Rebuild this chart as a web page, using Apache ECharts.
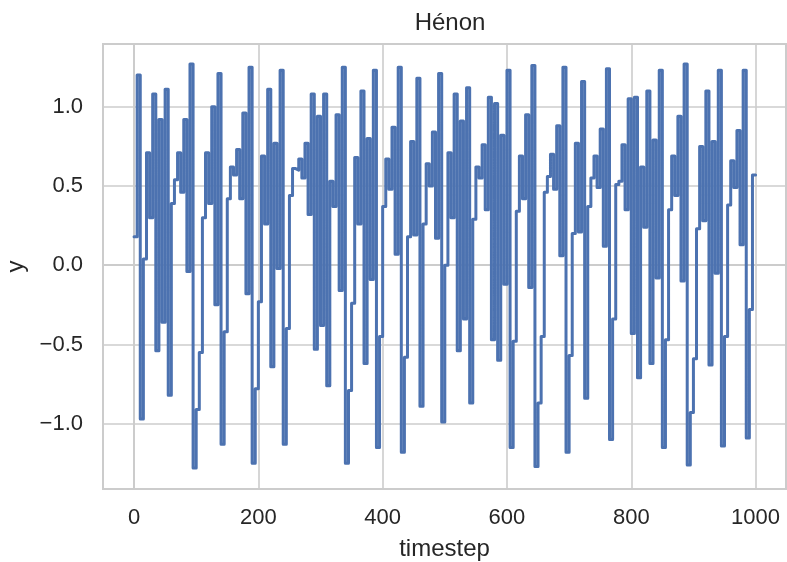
<!DOCTYPE html>
<html>
<head>
<meta charset="utf-8">
<script src="https://cdn.jsdelivr.net/npm/echarts@6/dist/echarts.min.js"></script>
<style>
  html, body { margin: 0; padding: 0; background: #fff; }
  #chart { width: 787px; height: 562px; }
</style>
</head>
<body>
<div id="chart"></div>
<script>
// each value is held for stepSize timesteps
const stepSize = 5;
const yValues = [
  0.18, 1.20, -0.97, 0.04, 0.71, 0.30, 1.08, -0.54, 0.92, -0.36,
  1.11, -0.82, 0.39, 0.54, 0.71, 0.46, 0.92, -0.04, 1.27, -1.28,
  -0.91, -0.55, 0.30, 0.71, 0.39, 1.00, -0.25, 1.21, -1.13, -0.42,
  0.42, 0.62, 0.57, 0.73, 0.42, 0.96, -0.18, 1.25, -1.25, -0.78,
  -0.23, 0.69, 0.26, 1.11, -0.64, 0.77, -0.02, 1.23, -1.13, -0.40,
  0.44, 0.61, 0.60, 0.67, 0.55, 0.77, 0.32, 1.08, -0.53, 0.94,
  -0.38, 1.08, -0.76, 0.53, 0.37, 0.95, -0.16, 1.25, -1.25, -0.79,
  -0.24, 0.68, 0.26, 1.10, -0.62, 0.80, -0.09, 1.23, -1.15, -0.45,
  0.37, 0.67, 0.48, 0.87, 0.07, 1.25, -1.18, -0.58, 0.18, 0.78,
  0.19, 1.18, -0.89, 0.26, 0.64, 0.50, 0.84, 0.17, 1.21, -0.99,
  0.00, 0.71, 0.30, 1.08, -0.54, 0.91, -0.34, 1.12, -0.87, 0.29,
  0.62, 0.55, 0.76, 0.35, 1.06, -0.47, 1.02, -0.60, 0.82, -0.12,
  1.23, -1.15, -0.48, 0.34, 0.69, 0.42, 0.95, -0.14, 1.26, -1.27,
  -0.87, -0.45, 0.46, 0.56, 0.70, 0.48, 0.88, 0.06, 1.25, -1.18,
  -0.57, 0.20, 0.77, 0.21, 1.16, -0.84, 0.37, 0.55, 0.69, 0.49,
  0.86, 0.12, 1.24, -1.10, -0.34, 0.51, 0.53, 0.76, 0.35, 1.05,
  -0.43, 1.06, -0.71, 0.62, 0.24, 1.10, -0.62, 0.79, -0.08, 1.23,
  -1.15, -0.47, 0.35, 0.69, 0.44, 0.94, -0.10, 1.27, -1.26, -0.93,
  -0.59, 0.23, 0.75, 0.28, 1.10, -0.63, 0.78, -0.05, 1.23, -1.14,
  -0.45, 0.38, 0.66, 0.49, 0.85, 0.13, 1.23, -1.09, -0.28, 0.57
];
const xTicks = [0, 200, 400, 600, 800, 1000];
const yTicks = [-1.0, -0.5, 0.0, 0.5, 1.0];

const seriesData = yValues.map((v, i) => [i * stepSize, v]);
seriesData.push([yValues.length * stepSize, yValues[yValues.length - 1]]);

const textColor = '#262626';
const gridColor = '#cccccc';
const font = '"Liberation Sans", Arial, sans-serif';

const fmtY = v => {
  if (Math.abs(v) < 1e-9) return '0.0';
  return (v < 0 ? '\u2212' : '') + Math.abs(v).toFixed(1);
};

const chart = echarts.init(document.getElementById('chart'));
chart.setOption({
  animation: false,
  backgroundColor: '#fff',
  title: {
    text: 'Hénon',
    left: 445,
    textAlign: 'center',
    top: 6,
    textStyle: { fontFamily: font, fontSize: 24, fontWeight: 'normal', color: textColor }
  },
  grid: {
    left: 103, right: 1, top: 44, bottom: 73,
    outerBoundsMode: 'none',
    containLabel: false,
    show: true, borderColor: gridColor, borderWidth: 2
  },
  xAxis: {
    type: 'value',
    min: -49.95,
    max: 1048.95,
    name: 'timestep',
    nameLocation: 'middle',
    nameGap: 48,
    nameTextStyle: { fontFamily: font, fontSize: 24, color: textColor },
    axisLine: { show: true, lineStyle: { color: gridColor, width: 2 } },
    axisTick: { show: false, customValues: xTicks },
    axisLabel: {
      customValues: xTicks,
      margin: 18,
      formatter: v => String(v),
      fontFamily: font, fontSize: 22, color: textColor
    },
    splitLine: { show: true, lineStyle: { color: gridColor, width: 1.6 } }
  },
  yAxis: {
    type: 'value',
    min: -1.412,
    max: 1.396,
    name: 'y',
    nameLocation: 'middle',
    nameGap: 65,
    nameTextStyle: { fontFamily: font, fontSize: 24, color: textColor },
    axisLine: { show: true, lineStyle: { color: gridColor, width: 2 } },
    axisTick: { show: false, customValues: yTicks },
    axisLabel: {
      customValues: yTicks,
      margin: 20,
      formatter: fmtY,
      fontFamily: font, fontSize: 22, color: textColor
    },
    splitLine: { show: true, lineStyle: { color: gridColor, width: 1.6 } }
  },
  series: [{
    type: 'line',
    step: 'end',
    data: seriesData,
    showSymbol: false,
    lineStyle: { color: '#4c72b0', width: 3, cap: 'round', join: 'round' },
    itemStyle: { color: '#4c72b0' }
  }]
});
</script>
</body>
</html>
